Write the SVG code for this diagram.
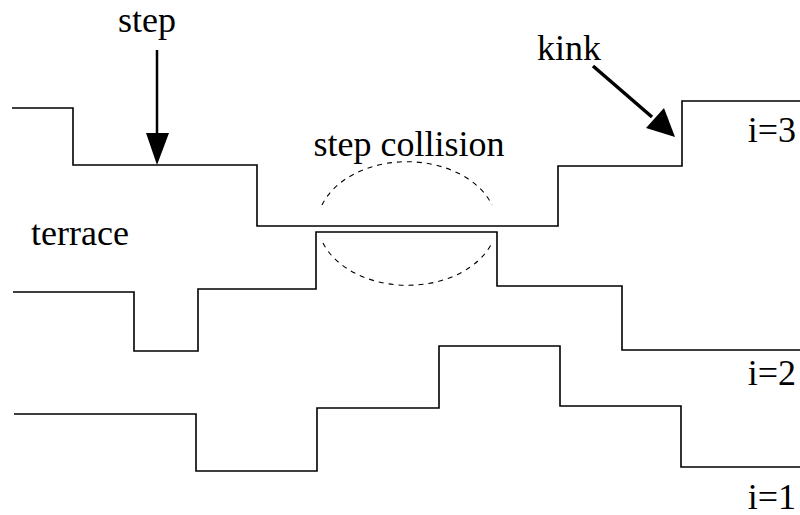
<svg xmlns="http://www.w3.org/2000/svg" width="800" height="515" viewBox="0 0 800 515">
  <defs>
    <style>
      .edge { fill: none; stroke: #000; stroke-width: 1.6; stroke-linejoin: miter; }
      .zone { fill: none; stroke: #000; stroke-width: 1.1; stroke-dasharray: 5 5; }
      .lbl { font-family: "Liberation Serif", "Times New Roman", serif; font-size: 36px; fill: #000; }
      .ptr { stroke: #000; fill: none; }
    </style>
  </defs>
  <rect width="800" height="515" fill="#fff"/>

  <!-- step edges, top to bottom -->
  <g id="step-i3">
    <polyline class="edge" points="12,108 73,108 73,165 257,165 257,226 558,226 558,166 682,166 682,101 800,101"/>
  </g>
  <g id="step-i2">
    <polyline class="edge" points="13,292 134,292 134,351 198,351 198,289 316,289 316,232 497,232 497,286 622,286 622,350 800,350"/>
  </g>
  <g id="step-i1">
    <polyline class="edge" points="14,414 196,414 196,471 317,471 317,408 439,408 439,346 560,346 560,406 681,406 681,467 800,467"/>
  </g>

  <!-- collision zone outline -->
  <g id="collision-zone">
    <path class="zone" d="M322,205 A90,64.5 0 0 1 492,205"/>
    <path class="zone" d="M323,243 A90,64.5 0 0 0 492,243"/>
  </g>

  <!-- labels -->
  <g id="label-step"><text class="lbl" x="147" y="32" text-anchor="middle">step</text></g>
  <g id="label-collision"><text class="lbl" x="409" y="156" text-anchor="middle">step collision</text></g>
  <g id="label-terrace"><text class="lbl" x="80" y="245" text-anchor="middle">terrace</text></g>
  <g id="label-kink"><text class="lbl" x="569" y="60" text-anchor="middle">kink</text></g>
  <g id="label-i3"><text class="lbl" x="796" y="142" text-anchor="end">i=3</text></g>
  <g id="label-i2"><text class="lbl" x="796" y="385" text-anchor="end">i=2</text></g>
  <g id="label-i1"><text class="lbl" x="796" y="509" text-anchor="end">i=1</text></g>

  <!-- pointer arrows -->
  <g id="connectors">
    <line class="ptr" x1="157" y1="50" x2="157" y2="136" stroke-width="2.5"/>
    <polygon points="146,133 169,133 157,165" fill="#000"/>
    <line class="ptr" x1="593" y1="66" x2="652" y2="117" stroke-width="3.5"/>
    <polygon points="646,128 664,108 675,137" fill="#000"/>
  </g>
</svg>
